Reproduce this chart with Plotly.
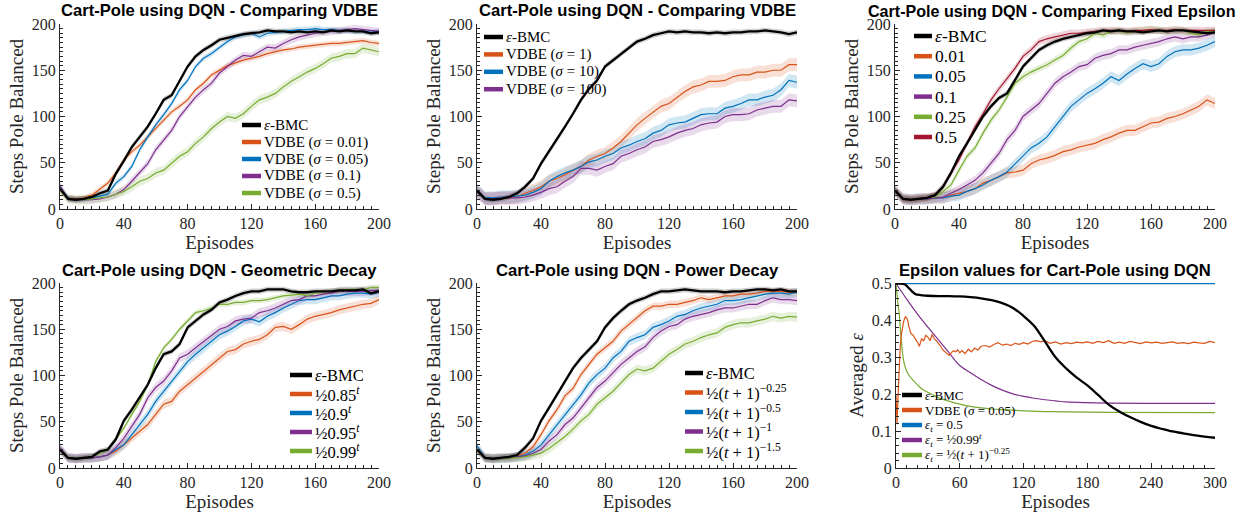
import plotly.graph_objects as go

# ---------------- data ----------------
EP = list(range(0, 201, 5))

# Panel 1 : Comparing VDBE (small sigma)
P1_LABELS = ["<i>ε</i>-BMC", "VDBE (<i>σ</i> = 0.01)", "VDBE (<i>σ</i> = 0.05)",
             "VDBE (<i>σ</i> = 0.1)", "VDBE (<i>σ</i> = 0.5)"]
P1_BMC = [22, 11, 10, 11, 13, 17, 20, 38, 52, 67, 78, 89, 103, 118, 123, 139, 154, 165, 172, 177, 183,
          185, 187, 189, 190, 191, 193, 192, 192, 191, 192, 191, 192, 191, 193, 192, 193, 192, 192, 190, 191]
P1_S001 = [20, 12, 11, 12, 15, 22, 28, 39, 53, 62, 69, 78, 87, 96, 105, 111, 118, 129, 136, 145, 150,
           155, 158, 161, 163, 165, 168, 170, 172, 173, 175, 176, 177, 178, 179, 179, 180, 181, 182, 180, 179]
P1_S005 = [24, 12, 10, 11, 12, 14, 16, 28, 35, 46, 64, 78, 91, 102, 114, 129, 139, 154, 163, 168, 175,
           181, 186, 188, 190, 186, 190, 191, 192, 193, 194, 194, 195, 194, 194, 193, 193, 192, 192, 191, 192]
P1_S01 = [25, 11, 10, 10, 10, 11, 13, 16, 21, 30, 40, 49, 64, 75, 85, 100, 111, 121, 129, 136, 147,
          154, 161, 166, 165, 170, 175, 174, 179, 183, 186, 188, 190, 191, 192, 193, 194, 195, 194, 193, 192]
P1_S05 = [20, 11, 10, 10, 11, 12, 13, 16, 19, 24, 30, 33, 39, 42, 49, 57, 62, 71, 78, 87, 94,
          100, 98, 103, 111, 118, 121, 125, 132, 138, 143, 148, 152, 157, 163, 165, 168, 168, 174, 172, 170]
P1_BAND = [3, 3, 3, 4, 5]

# Panel 2 : Comparing VDBE (large sigma)
P2_LABELS = ["<i>ε</i>-BMC", "VDBE (<i>σ</i> = 1)", "VDBE (<i>σ</i> = 10)", "VDBE (<i>σ</i> = 100)"]
P2_BMC = [20, 11, 10, 11, 13, 17, 24, 33, 49, 62, 75, 89, 103, 118, 130, 139, 154, 161, 168, 175, 181,
          184, 188, 190, 192, 191, 192, 191, 191, 190, 191, 190, 191, 191, 192, 192, 193, 192, 191, 189, 191]
P2_S1 = [20, 11, 11, 12, 12, 13, 17, 20, 24, 30, 33, 37, 42, 46, 53, 57, 60, 66, 73, 82, 91,
         98, 105, 111, 114, 121, 127, 132, 134, 138, 138, 139, 143, 145, 145, 148, 148, 150, 150, 156, 156]
P2_S10 = [20, 12, 12, 13, 13, 14, 15, 18, 22, 30, 35, 39, 42, 46, 51, 53, 57, 60, 66, 69, 73,
          76, 82, 85, 91, 93, 94, 98, 102, 103, 103, 109, 111, 114, 118, 118, 121, 123, 129, 139, 137]
P2_S100 = [18, 11, 11, 12, 12, 12, 13, 15, 18, 22, 24, 30, 35, 44, 44, 42, 46, 49, 57, 60, 64,
           67, 73, 75, 78, 82, 85, 87, 91, 93, 94, 100, 102, 102, 103, 107, 109, 111, 111, 118, 117]
P2_BAND = [3, 7, 7, 7]

# Panel 3 : Comparing fixed epsilon
P3_LABELS = ["<i>ε</i>-BMC", "0.01", "0.05", "0.1", "0.25", "0.5"]
P3_BMC = [20, 11, 10, 11, 12, 15, 24, 39, 57, 71, 85, 100, 111, 120, 125, 139, 154, 163, 172, 177, 181,
          184, 186, 188, 190, 191, 193, 192, 193, 192, 192, 191, 192, 193, 192, 193, 193, 192, 191, 190, 191]
P3_E001 = [20, 11, 10, 11, 11, 12, 12, 15, 17, 19, 22, 28, 31, 35, 39, 40, 42, 49, 53, 55, 58,
           62, 64, 67, 69, 71, 75, 78, 82, 85, 85, 89, 93, 94, 98, 100, 103, 107, 111, 118, 114]
P3_E005 = [20, 11, 10, 11, 11, 12, 12, 14, 15, 19, 22, 26, 31, 35, 40, 49, 57, 66, 71, 78, 89,
           100, 111, 118, 125, 130, 136, 143, 139, 146, 152, 157, 154, 157, 165, 170, 172, 172, 174, 177, 181]
P3_E01 = [20, 11, 10, 11, 11, 12, 13, 17, 21, 26, 31, 39, 49, 60, 75, 85, 100, 107, 114, 125, 136,
          143, 148, 154, 156, 163, 166, 168, 172, 172, 175, 177, 179, 181, 184, 186, 184, 186, 186, 188, 191]
P3_E025 = [20, 11, 10, 11, 12, 13, 19, 26, 42, 57, 66, 82, 96, 107, 121, 136, 143, 148, 152, 156, 161,
           166, 174, 181, 184, 190, 188, 192, 192, 191, 192, 193, 194, 193, 192, 193, 193, 190, 188, 192, 192]
P3_E05 = [20, 11, 10, 11, 12, 15, 24, 39, 53, 71, 89, 103, 118, 130, 141, 152, 165, 172, 181, 184, 186,
          188, 190, 190, 191, 192, 193, 193, 193, 192, 193, 193, 194, 193, 193, 194, 193, 193, 193, 193, 193]
P3_BAND = [3, 6, 6, 5, 4, 4]

# Panel 4 : Geometric decay
P4_LABELS = ["<i>ε</i>-BMC", "½0.85<sup><i>t</i></sup>", "½0.9<sup><i>t</i></sup>",
             "½0.95<sup><i>t</i></sup>", "½0.99<sup><i>t</i></sup>"]
P4_BMC = [20, 11, 10, 11, 12, 18, 20, 31, 51, 63, 76, 90, 108, 123, 126, 134, 152, 159, 166, 171, 179,
          182, 186, 189, 191, 191, 193, 193, 193, 191, 190, 190, 191, 191, 191, 192, 192, 192, 193, 189, 191]
P4_G085 = [20, 11, 10, 11, 11, 12, 14, 18, 25, 32, 40, 47, 58, 69, 72, 83, 90, 97, 105, 112, 119,
           126, 128, 134, 137, 139, 144, 152, 153, 150, 155, 161, 164, 166, 168, 171, 173, 175, 177, 178, 182]
P4_G09 = [20, 11, 10, 11, 11, 12, 14, 20, 25, 36, 47, 58, 72, 83, 94, 105, 115, 123, 130, 137, 144,
          148, 153, 159, 161, 158, 164, 168, 173, 177, 181, 182, 182, 184, 186, 186, 188, 189, 189, 188, 190]
P4_G095 = [22, 11, 10, 11, 11, 12, 14, 22, 32, 45, 58, 76, 87, 94, 105, 119, 123, 130, 137, 144, 150,
           153, 159, 161, 162, 168, 170, 173, 177, 181, 182, 186, 186, 188, 189, 191, 191, 191, 191, 192, 192]
P4_G099 = [20, 11, 10, 11, 12, 16, 20, 31, 43, 58, 72, 90, 115, 130, 139, 150, 159, 168, 170, 173, 177,
           177, 179, 179, 181, 181, 182, 184, 186, 187, 188, 186, 189, 190, 191, 192, 193, 193, 193, 195, 195]
P4_BAND = [3, 5, 5, 5, 3]

# Panel 5 : Power decay
P5_LABELS = ["<i>ε</i>-BMC", "½(<i>t</i> + 1)<sup>−0.25</sup>", "½(<i>t</i> + 1)<sup>−0.5</sup>",
             "½(<i>t</i> + 1)<sup>−1</sup>", "½(<i>t</i> + 1)<sup>−1.5</sup>"]
P5_BMC = [20, 11, 10, 11, 12, 14, 22, 32, 51, 65, 79, 94, 108, 119, 128, 137, 152, 162, 170, 177, 181,
          184, 188, 191, 191, 192, 193, 192, 191, 191, 191, 190, 191, 191, 192, 193, 193, 192, 193, 191, 191]
P5_Q025 = [20, 11, 10, 11, 11, 13, 16, 23, 36, 51, 63, 78, 86, 101, 112, 123, 130, 137, 148, 155, 162,
           170, 175, 175, 177, 177, 179, 181, 184, 182, 184, 186, 186, 188, 188, 189, 191, 191, 191, 190, 190]
P5_Q05 = [24, 11, 10, 11, 11, 12, 14, 18, 25, 36, 47, 58, 69, 79, 92, 101, 108, 119, 126, 137, 141,
          144, 152, 155, 159, 164, 166, 170, 173, 175, 177, 181, 181, 182, 184, 186, 188, 189, 189, 188, 190]
P5_Q1 = [20, 11, 10, 11, 11, 12, 13, 16, 20, 29, 36, 47, 54, 65, 76, 87, 94, 103, 112, 119, 126,
         131, 141, 148, 153, 155, 161, 164, 166, 168, 171, 173, 173, 175, 177, 177, 181, 184, 182, 182, 181]
P5_Q15 = [20, 11, 10, 10, 11, 11, 12, 14, 16, 21, 27, 34, 42, 51, 58, 69, 76, 83, 92, 101, 107,
          105, 108, 115, 123, 128, 134, 137, 141, 144, 146, 152, 155, 157, 157, 159, 161, 164, 162, 164, 163]
P5_BAND = [3, 4, 5, 5, 5]

# Panel 6 : Epsilon values
P6_LABELS = ["<i>ε</i>-BMC", "VDBE (<i>σ</i> = 0.05)", "<i>ε<sub>t</sub></i> = 0.5",
             "<i>ε<sub>t</sub></i> = ½0.99<sup><i>t</i></sup>",
             "<i>ε<sub>t</sub></i> = ½(<i>t</i> + 1)<sup>−0.25</sup>"]
BMC_T = [0, 4, 8, 10, 12, 15, 18, 20, 25, 30, 40, 50, 60, 70, 80, 90, 100, 110, 120, 130, 140, 150,
         160, 170, 180, 190, 200, 210, 220, 230, 240, 250, 260, 270, 280, 290, 300]
BMC_EPS = [0.5, 0.5, 0.498, 0.494, 0.488, 0.479, 0.472, 0.470, 0.468, 0.467, 0.466, 0.466, 0.465, 0.463,
           0.460, 0.455, 0.447, 0.434, 0.412, 0.385, 0.343, 0.300, 0.270, 0.245, 0.224, 0.198, 0.172,
           0.153, 0.138, 0.125, 0.114, 0.106, 0.099, 0.094, 0.089, 0.085, 0.082]
VDBE_T = [0, 1, 2, 3, 4, 5, 6, 7, 8, 9, 10, 11, 12, 13, 14, 16, 18, 20, 22, 24, 26, 28, 30, 32, 34, 36,
          38, 40, 42, 44, 46, 48, 50, 52, 54, 56, 58, 60, 62, 65, 68, 71, 74, 77, 80, 84, 88, 92, 96,
          100, 104, 108, 112, 116, 120, 124, 128, 132, 136, 140, 145, 150, 155, 160, 165, 170, 175,
          180, 185, 190, 195, 200, 205, 210, 215, 220, 225, 230, 235, 240, 245, 250, 255, 260, 265,
          270, 275, 280, 285, 290, 295, 300]
VDBE_EPS = [0.20, 0.12, 0.20, 0.28, 0.33, 0.36, 0.38, 0.395, 0.405, 0.41, 0.407, 0.40, 0.385, 0.37,
            0.365, 0.36, 0.352, 0.342, 0.33, 0.35, 0.345, 0.36, 0.355, 0.345, 0.362, 0.35, 0.345,
            0.338, 0.33, 0.32, 0.315, 0.31, 0.305, 0.312, 0.318, 0.315, 0.32, 0.312, 0.318, 0.31,
            0.322, 0.315, 0.325, 0.32, 0.33, 0.332, 0.328, 0.335, 0.34, 0.333, 0.336, 0.332, 0.338,
            0.335, 0.34, 0.336, 0.343, 0.345, 0.342, 0.345, 0.338, 0.342, 0.336, 0.34, 0.337, 0.341,
            0.339, 0.342, 0.338, 0.343, 0.34, 0.345, 0.338, 0.341, 0.338, 0.343, 0.34, 0.337, 0.342,
            0.339, 0.341, 0.338, 0.34, 0.342, 0.338, 0.34, 0.337, 0.341, 0.339, 0.338, 0.343, 0.34]
FIXED_T = [0, 300]
FIXED_EPS = [0.5, 0.5]
GEO_T = [0, 10, 20, 30, 40, 50, 60, 70, 80, 90, 100, 110, 120, 130, 140, 150, 160, 180, 200, 250, 300]
GEO_EPS = [0.5, 0.458, 0.418, 0.382, 0.347, 0.312, 0.278, 0.258, 0.24, 0.224, 0.211, 0.201, 0.194,
           0.189, 0.185, 0.182, 0.179, 0.177, 0.176, 0.175, 0.175]
POW_T = [0, 1, 2, 3, 4, 5, 6, 8, 10, 13, 16, 20, 25, 30, 35, 40, 50, 60, 70, 80, 90, 100, 120, 140,
         160, 200, 300]
POW_EPS = [0.5, 0.47, 0.44, 0.42, 0.38, 0.346, 0.315, 0.28, 0.263, 0.248, 0.238, 0.226, 0.213, 0.205,
           0.198, 0.19, 0.181, 0.173, 0.167, 0.163, 0.16, 0.158, 0.155, 0.153, 0.152, 0.151, 0.15]

# ---------------- style ----------------
BLACK, ORANGE, BLUE, PURPLE, GREEN, RED = "#000000", "#D95319", "#0072BD", "#7E2F8E", "#77AC30", "#A2142F"
AX = "#262626"
SERIF = "Liberation Serif"
SANS = "Liberation Sans"
W, H = 1255, 516

COLS = [(60, 379), (477, 797), (895, 1215)]
ROWS = [(24, 209), (283, 468)]


def rgba(hexc, a):
    h = hexc.lstrip("#")
    return "rgba(%d,%d,%d,%.2f)" % (int(h[0:2], 16), int(h[2:4], 16), int(h[4:6], 16), a)


fig = go.Figure()

panels = [
    dict(title="Cart-Pole using DQN - Comparing VDBE", series=[P1_BMC, P1_S001, P1_S005, P1_S01, P1_S05],
         labels=P1_LABELS, colors=[BLACK, ORANGE, BLUE, PURPLE, GREEN], band=P1_BAND,
         legend=dict(x=242, y=125, dy=17, size=15, len=19), tsize=16.6, tx=219),
    dict(title="Cart-Pole using DQN - Comparing VDBE", series=[P2_BMC, P2_S1, P2_S10, P2_S100],
         labels=P2_LABELS, colors=[BLACK, ORANGE, BLUE, PURPLE], band=P2_BAND,
         legend=dict(x=484, y=37, dy=17.4, size=15, len=19), tsize=16.6, tx=637),
    dict(title="Cart-Pole using DQN - Comparing Fixed Epsilon",
         series=[P3_BMC, P3_E001, P3_E005, P3_E01, P3_E025, P3_E05],
         labels=P3_LABELS, colors=[BLACK, ORANGE, BLUE, PURPLE, GREEN, RED], band=P3_BAND,
         legend=dict(x=914, y=36, dy=20.2, size=17.5, len=18), tsize=16.1, tx=1052),
    dict(title="Cart-Pole using DQN - Geometric Decay", series=[P4_BMC, P4_G085, P4_G09, P4_G095, P4_G099],
         labels=P4_LABELS, colors=[BLACK, ORANGE, BLUE, PURPLE, GREEN], band=P4_BAND,
         legend=dict(x=290, y=375, dy=19, size=16.5, len=22), tsize=16.6, tx=219),
    dict(title="Cart-Pole using DQN - Power Decay", series=[P5_BMC, P5_Q025, P5_Q05, P5_Q1, P5_Q15],
         labels=P5_LABELS, colors=[BLACK, ORANGE, BLUE, PURPLE, GREEN], band=P5_BAND,
         legend=dict(x=685, y=373, dy=19.5, size=16.5, len=18), tsize=16.6, tx=637),
]


def axis_style(domain, rng, dtick, minor_dtick, title, anchor):
    return dict(domain=domain, range=rng, anchor=anchor, showline=True, linecolor=AX, linewidth=1,
                ticks="inside", ticklen=5, tickcolor=AX, tickwidth=1, dtick=dtick, tick0=0,
                minor=dict(ticks="inside", ticklen=3, tickcolor=AX, dtick=minor_dtick, tick0=0),
                showgrid=False, zeroline=False, mirror=False, automargin=False,
                tickfont=dict(family=SERIF, size=16, color=AX),
                title=dict(text=title, font=dict(family=SERIF, size=19, color=AX), standoff=3),
                fixedrange=True)


positions = [(0, 0), (0, 1), (0, 2), (1, 0), (1, 1), (1, 2)]
annotations = []
shapes = []
layout_axes = {}
for i, (r, c) in enumerate(positions):
    n = i + 1
    x0, x1 = COLS[c]
    y0, y1 = ROWS[r]
    if i == 5:
        x0 = 896
    xd = [x0 / W, x1 / W]
    yd = [1 - y1 / H, 1 - y0 / H]
    xa = "xaxis" if n == 1 else "xaxis%d" % n
    ya = "yaxis" if n == 1 else "yaxis%d" % n
    xr = "x" if n == 1 else "x%d" % n
    yr = "y" if n == 1 else "y%d" % n
    if i < 5:
        layout_axes[xa] = axis_style(xd, [0, 200], 40, 5, "Episodes", yr)
        layout_axes[ya] = axis_style(yd, [0, 200], 50, 5, "Steps Pole Balanced", xr)
    else:
        layout_axes[xa] = axis_style(xd, [0, 300], 60, 10, "Episodes", yr)
        layout_axes[ya] = axis_style(yd, [0, 0.5015], 0.1, 0.02, "Averaged <i>ε</i>", xr)

    if i < 5:
        p = panels[i]
        title, tsize, tx = p["title"], p["tsize"], p["tx"]
        order = list(range(1, len(p["series"]))) + [0]
        for k in order:
            vals = p["series"][k]
            hw = p["band"][k]
            col = p["colors"][k]
            up = [v + hw for v in vals]
            lo = [max(v - hw, 0) for v in vals]
            fig.add_trace(go.Scatter(x=EP + EP[::-1], y=up + lo[::-1], fill="toself",
                                     fillcolor=rgba(col, 0.18) if k else "rgba(0,0,0,0.18)",
                                     line=dict(width=0), mode="lines", hoverinfo="skip",
                                     showlegend=False, xaxis=xr, yaxis=yr))
        for k in order:
            fig.add_trace(go.Scatter(x=EP, y=p["series"][k], mode="lines", name=p["labels"][k],
                                     line=dict(color=p["colors"][k], width=2.3 if k == 0 else 1.2),
                                     showlegend=False, xaxis=xr, yaxis=yr))
        labels, colors, lg = p["labels"], p["colors"], p["legend"]
    else:
        title, tsize, tx = "Epsilon values for Cart-Pole using DQN", 16.6, 1055
        ser = [(BMC_T, BMC_EPS, BLACK, 2.3), (VDBE_T, VDBE_EPS, ORANGE, 1.2),
               (FIXED_T, FIXED_EPS, BLUE, 1.4), (GEO_T, GEO_EPS, PURPLE, 1.2), (POW_T, POW_EPS, GREEN, 1.2)]
        for k in [2, 3, 4, 1, 0]:
            t, e, col, w = ser[k]
            fig.add_trace(go.Scatter(x=t, y=e, mode="lines", name=P6_LABELS[k],
                                     line=dict(color=col, width=w,
                                               shape="spline" if k in (0, 3, 4) else "linear"),
                                     showlegend=False, xaxis=xr, yaxis=yr))
        labels = P6_LABELS
        colors = [s[2] for s in ser]
        lg = dict(x=902, y=395, dy=15, size=13, len=20)

    # legend: key lines + labels
    for k, lab in enumerate(labels):
        yc = lg["y"] + k * lg["dy"]
        shapes.append(dict(type="line", xref="paper", yref="paper",
                           x0=lg["x"] / W, x1=(lg["x"] + lg["len"]) / W,
                           y0=1 - yc / H, y1=1 - yc / H,
                           line=dict(color=colors[k], width=4.5)))
        annotations.append(dict(text=lab, x=(lg["x"] + lg["len"] + 1) / W, y=1 - yc / H,
                                xref="paper", yref="paper", xanchor="left", yanchor="middle",
                                showarrow=False, font=dict(family=SERIF, size=lg["size"], color="#000000")))

    ty = 10.5 if r == 0 else 270.5
    annotations.append(dict(text="<b>%s</b>" % title, x=tx / W, y=1 - ty / H,
                            xref="paper", yref="paper", xanchor="center", yanchor="middle",
                            showarrow=False, font=dict(family=SANS, size=tsize, color="#000000")))

fig.update_layout(template="none", width=W, height=H, margin=dict(l=0, r=0, t=0, b=0, autoexpand=False),
                  paper_bgcolor="white", plot_bgcolor="white", annotations=annotations, shapes=shapes,
                  showlegend=False, **layout_axes)

fig.write_html("out.html", config={"displayModeBar": False, "staticPlot": True},
               post_script="document.body.style.margin='0';document.body.style.padding='0';"
                           "document.body.style.overflow='hidden';")
